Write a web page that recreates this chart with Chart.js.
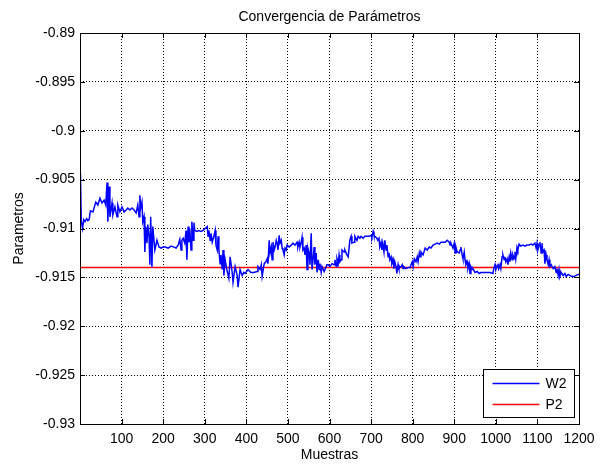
<!DOCTYPE html>
<html>
<head>
<meta charset="utf-8">
<script src="https://cdn.jsdelivr.net/npm/chart.js@4.4.1/dist/chart.umd.min.js"></script>
<style>
  body { margin: 0; background: #fff; }
  #contenedor { width: 608px; height: 465px; }
</style>
</head>
<body>
<div id="contenedor"><canvas id="graficoParametros"></canvas></div>
<script>
// Muestras (eje x) y valores estimados del parámetro W2
const muestras = [
    1, 3, 6, 9, 12, 16, 19, 22, 25, 31,
    38, 43, 48, 53, 58, 62, 65, 67, 70, 72,
    77, 79, 84, 89, 91, 96, 101, 106, 111, 115,
    120, 125, 130, 135, 139, 142, 144, 146, 149, 151,
    154, 156, 158, 161, 163, 166, 168, 170, 173, 175,
    180, 185, 190, 195, 200, 205, 212, 219, 226, 231,
    236, 240, 243, 245, 248, 252, 255, 257, 260, 262,
    264, 267, 269, 272, 274, 276, 281, 286, 291, 296,
    301, 306, 308, 310, 313, 315, 318, 322, 325, 327,
    330, 332, 334, 337, 339, 342, 344, 346, 349, 353,
    358, 361, 366, 368, 373, 378, 380, 385, 390, 394,
    397, 404, 411, 418, 426, 428, 433, 436, 438, 443,
    447, 450, 452, 455, 457, 460, 462, 464, 467, 469,
    472, 474, 476, 479, 481, 484, 486, 488, 491, 493,
    496, 498, 503, 508, 512, 517, 522, 524, 527, 529,
    532, 534, 536, 539, 541, 544, 546, 548, 551, 553,
    556, 558, 561, 563, 565, 568, 570, 573, 575, 577,
    580, 582, 587, 592, 594, 597, 601, 606, 611, 613,
    616, 618, 621, 623, 625, 628, 630, 635, 637, 642,
    645, 649, 652, 654, 659, 661, 666, 669, 673, 676,
    681, 685, 690, 695, 700, 702, 705, 707, 709, 714,
    716, 719, 721, 724, 726, 728, 731, 733, 736, 738,
    741, 743, 745, 748, 750, 753, 755, 757, 760, 762,
    765, 767, 772, 775, 777, 779, 784, 789, 794, 796,
    799, 801, 804, 808, 811, 813, 816, 818, 820, 825,
    830, 835, 840, 844, 849, 854, 859, 864, 868, 873,
    878, 883, 888, 890, 892, 897, 900, 902, 904, 907,
    912, 914, 916, 919, 921, 924, 926, 928, 931, 933,
    936, 938, 940, 943, 945, 950, 955, 960, 964, 969,
    974, 979, 986, 993, 995, 998, 1000, 1003, 1005, 1007,
    1010, 1012, 1015, 1017, 1020, 1022, 1024, 1027, 1029, 1032,
    1034, 1036, 1039, 1041, 1044, 1046, 1048, 1051, 1053, 1056,
    1060, 1065, 1070, 1075, 1080, 1085, 1089, 1094, 1097, 1099,
    1101, 1104, 1106, 1109, 1111, 1113, 1116, 1118, 1121, 1123,
    1126, 1128, 1130, 1133, 1138, 1142, 1145, 1147, 1150, 1152,
    1154, 1157, 1162, 1166, 1169, 1174, 1178, 1183, 1188, 1193,
    1198, 1200
];

const w2 = [
    -0.9043, -0.9092, -0.9100, -0.9091, -0.9093, -0.9090, -0.9092, -0.9091, -0.9082, -0.9083,
    -0.9073, -0.9076, -0.9069, -0.9074, -0.9071, -0.9076, -0.9053, -0.9093, -0.9057, -0.9088,
    -0.9074, -0.9086, -0.9078, -0.9088, -0.9076, -0.9083, -0.9078, -0.9083, -0.9081, -0.9079,
    -0.9081, -0.9079, -0.9081, -0.9084, -0.9076, -0.9088, -0.9066, -0.9079, -0.9073, -0.9093,
    -0.9088, -0.9124, -0.9098, -0.9115, -0.9096, -0.9108, -0.9137, -0.9088, -0.9140, -0.9098,
    -0.9122, -0.9112, -0.9119, -0.9120, -0.9119, -0.9119, -0.9120, -0.9118, -0.9119, -0.9120,
    -0.9117, -0.9111, -0.9122, -0.9112, -0.9110, -0.9115, -0.9102, -0.9132, -0.9098, -0.9114,
    -0.9100, -0.9122, -0.9093, -0.9112, -0.9094, -0.9102, -0.9103, -0.9102, -0.9103, -0.9102,
    -0.9100, -0.9098, -0.9108, -0.9102, -0.9112, -0.9105, -0.9114, -0.9108, -0.9102, -0.9117,
    -0.9122, -0.9108, -0.9122, -0.9136, -0.9127, -0.9142, -0.9122, -0.9148, -0.9132, -0.9142,
    -0.9151, -0.9129, -0.9145, -0.9155, -0.9139, -0.9148, -0.9160, -0.9142, -0.9148, -0.9145,
    -0.9146, -0.9142, -0.9145, -0.9145, -0.9144, -0.9139, -0.9142, -0.9137, -0.9149, -0.9136,
    -0.9134, -0.9131, -0.9136, -0.9112, -0.9125, -0.9119, -0.9132, -0.9114, -0.9122, -0.9119,
    -0.9112, -0.9115, -0.9122, -0.9107, -0.9115, -0.9112, -0.9120, -0.9122, -0.9127, -0.9120,
    -0.9122, -0.9117, -0.9119, -0.9117, -0.9115, -0.9117, -0.9114, -0.9119, -0.9114, -0.9119,
    -0.9114, -0.9109, -0.9122, -0.9120, -0.9127, -0.9117, -0.9142, -0.9120, -0.9125, -0.9137,
    -0.9105, -0.9142, -0.9129, -0.9119, -0.9137, -0.9125, -0.9145, -0.9132, -0.9142, -0.9136,
    -0.9145, -0.9139, -0.9144, -0.9139, -0.9137, -0.9137, -0.9139, -0.9136, -0.9137, -0.9132,
    -0.9139, -0.9131, -0.9136, -0.9127, -0.9134, -0.9132, -0.9122, -0.9124, -0.9122, -0.9127,
    -0.9129, -0.9112, -0.9108, -0.9115, -0.9114, -0.9108, -0.9112, -0.9108, -0.9110, -0.9108,
    -0.9110, -0.9108, -0.9108, -0.9108, -0.9107, -0.9109, -0.9103, -0.9107, -0.9108, -0.9110,
    -0.9112, -0.9110, -0.9119, -0.9114, -0.9122, -0.9115, -0.9124, -0.9112, -0.9122, -0.9117,
    -0.9129, -0.9125, -0.9132, -0.9129, -0.9136, -0.9132, -0.9141, -0.9134, -0.9139, -0.9146,
    -0.9137, -0.9141, -0.9139, -0.9137, -0.9141, -0.9139, -0.9141, -0.9140, -0.9140, -0.9137,
    -0.9134, -0.9139, -0.9131, -0.9134, -0.9129, -0.9134, -0.9125, -0.9129, -0.9124, -0.9127,
    -0.9120, -0.9122, -0.9119, -0.9120, -0.9117, -0.9116, -0.9115, -0.9116, -0.9114, -0.9114,
    -0.9114, -0.9112, -0.9114, -0.9117, -0.9115, -0.9120, -0.9115, -0.9125, -0.9119, -0.9124,
    -0.9125, -0.9122, -0.9119, -0.9127, -0.9131, -0.9124, -0.9132, -0.9137, -0.9134, -0.9141,
    -0.9136, -0.9146, -0.9139, -0.9142, -0.9141, -0.9145, -0.9144, -0.9146, -0.9145, -0.9145,
    -0.9145, -0.9145, -0.9145, -0.9146, -0.9141, -0.9137, -0.9142, -0.9139, -0.9136, -0.9141,
    -0.9137, -0.9141, -0.9129, -0.9127, -0.9132, -0.9129, -0.9134, -0.9131, -0.9137, -0.9129,
    -0.9134, -0.9125, -0.9132, -0.9127, -0.9131, -0.9124, -0.9131, -0.9119, -0.9122, -0.9116,
    -0.9118, -0.9117, -0.9118, -0.9117, -0.9117, -0.9116, -0.9117, -0.9115, -0.9120, -0.9115,
    -0.9122, -0.9117, -0.9114, -0.9125, -0.9115, -0.9124, -0.9122, -0.9136, -0.9127, -0.9132,
    -0.9137, -0.9132, -0.9139, -0.9137, -0.9141, -0.9139, -0.9145, -0.9141, -0.9148, -0.9142,
    -0.9149, -0.9145, -0.9148, -0.9146, -0.9149, -0.9147, -0.9148, -0.9149, -0.9149, -0.9148,
    -0.9147, -0.9147
];

// Valor real del parámetro (constante)
const p2 = -0.914;

// Ejes
const xMin = 0, xMax = 1200, xPaso = 100;
const yMin = -0.93, yMax = -0.89, yPaso = 0.005;

const fuente = "'Liberation Sans', Arial, sans-serif";

// Marcas hacia dentro, caja del eje y leyenda estilo MATLAB
const cajaMatlab = {
    id: "cajaMatlab",
    afterDatasetsDraw(chart) {
        const { ctx, chartArea: a, scales } = chart;
        const largo = 5;
        ctx.save();
        ctx.strokeStyle = "#000";
        ctx.lineWidth = 1;
        ctx.beginPath();
        scales.x.ticks.forEach((t) => {
            const px = Math.round(scales.x.getPixelForValue(t.value)) + 0.5;
            ctx.moveTo(px, a.bottom); ctx.lineTo(px, a.bottom - largo);
            ctx.moveTo(px, a.top); ctx.lineTo(px, a.top + largo);
        });
        scales.y.ticks.forEach((t) => {
            const py = Math.round(scales.y.getPixelForValue(t.value)) + 0.5;
            ctx.moveTo(a.left, py); ctx.lineTo(a.left + largo, py);
            ctx.moveTo(a.right, py); ctx.lineTo(a.right - largo, py);
        });
        ctx.stroke();
        ctx.strokeRect(Math.round(a.left) + 0.5, Math.round(a.top) + 0.5,
            Math.round(a.right - a.left), Math.round(a.bottom - a.top));

        // Leyenda
        const ancho = 91, alto = 48;
        const lx = Math.round(a.right - 5 - ancho) + 0.5;
        const ly = Math.round(a.bottom - 7 - alto) + 0.5;
        ctx.fillStyle = "#fff";
        ctx.fillRect(lx, ly, ancho, alto);
        ctx.strokeRect(lx, ly, ancho, alto);
        ctx.font = "14px " + fuente;
        ctx.textBaseline = "middle";
        chart.data.datasets.forEach((ds, i) => {
            const yy = ly + 14 + i * 21;
            ctx.strokeStyle = ds.borderColor;
            ctx.lineWidth = 1.5;
            ctx.beginPath();
            ctx.moveTo(lx + 9, yy); ctx.lineTo(lx + 56, yy);
            ctx.stroke();
            ctx.fillStyle = "#000";
            ctx.fillText(ds.label, lx + 62, yy + 1);
        });
        ctx.restore();
    }
};

function dibujarGrafico() {
    const puntosW2 = muestras.map((m, i) => ({ x: m, y: w2[i] }));
    const puntosP2 = [{ x: xMin, y: p2 }, { x: xMax, y: p2 }];

    const ctx = document.getElementById("graficoParametros").getContext("2d");

    new Chart(ctx, {
        type: "line",
        data: {
            datasets: [
                {
                    label: "W2",
                    data: puntosW2,
                    borderColor: "#0000ff",
                    borderWidth: 1.5,
                    pointRadius: 0,
                    tension: 0,
                },
                {
                    label: "P2",
                    data: puntosP2,
                    borderColor: "#ff0000",
                    borderWidth: 1.5,
                    pointRadius: 0,
                },
            ],
        },
        options: {
            responsive: true,
            maintainAspectRatio: false,
            animation: false,
            layout: { padding: { left: 0, right: 29, top: 0, bottom: 0 } },
            plugins: {
                legend: { display: false },
                tooltip: { enabled: false },
                title: {
                    display: true,
                    fullSize: false,
                    text: "Convergencia de Parámetros",
                    color: "#000",
                    font: { family: fuente, size: 14, weight: "normal" },
                    padding: { top: 8.6, bottom: 7.6 },
                },
            },
            scales: {
                x: {
                    type: "linear",
                    min: xMin,
                    max: xMax,
                    grid: { color: "#000", lineWidth: 1, drawTicks: false },
                    border: { display: false, dash: [1, 2] },
                    ticks: {
                        stepSize: xPaso,
                        color: "#000",
                        padding: 7,
                        maxRotation: 0,
                        font: { family: fuente, size: 14 },
                        callback: (v) => (v === 0 ? "" : v),
                    },
                    title: {
                        display: true,
                        text: "Muestras",
                        color: "#000",
                        font: { family: fuente, size: 14 },
                        padding: { top: 0, bottom: 1 },
                    },
                    afterFit: (s) => { s.height = 41; },
                },
                y: {
                    min: yMin,
                    max: yMax,
                    grid: { color: "#000", lineWidth: 1, drawTicks: false },
                    border: { display: false, dash: [1, 2] },
                    ticks: {
                        stepSize: yPaso,
                        color: "#000",
                        padding: 5,
                        font: { family: fuente, size: 14 },
                        callback: (v) => String(Number(v.toFixed(3))),
                    },
                    title: {
                        display: true,
                        text: "Parametros",
                        color: "#000",
                        font: { family: fuente, size: 14 },
                        padding: { top: 11, bottom: 0 },
                    },
                    afterFit: (s) => { s.width = 80; },
                },
            },
        },
        plugins: [cajaMatlab],
    });
}

dibujarGrafico();
</script>
</body>
</html>
